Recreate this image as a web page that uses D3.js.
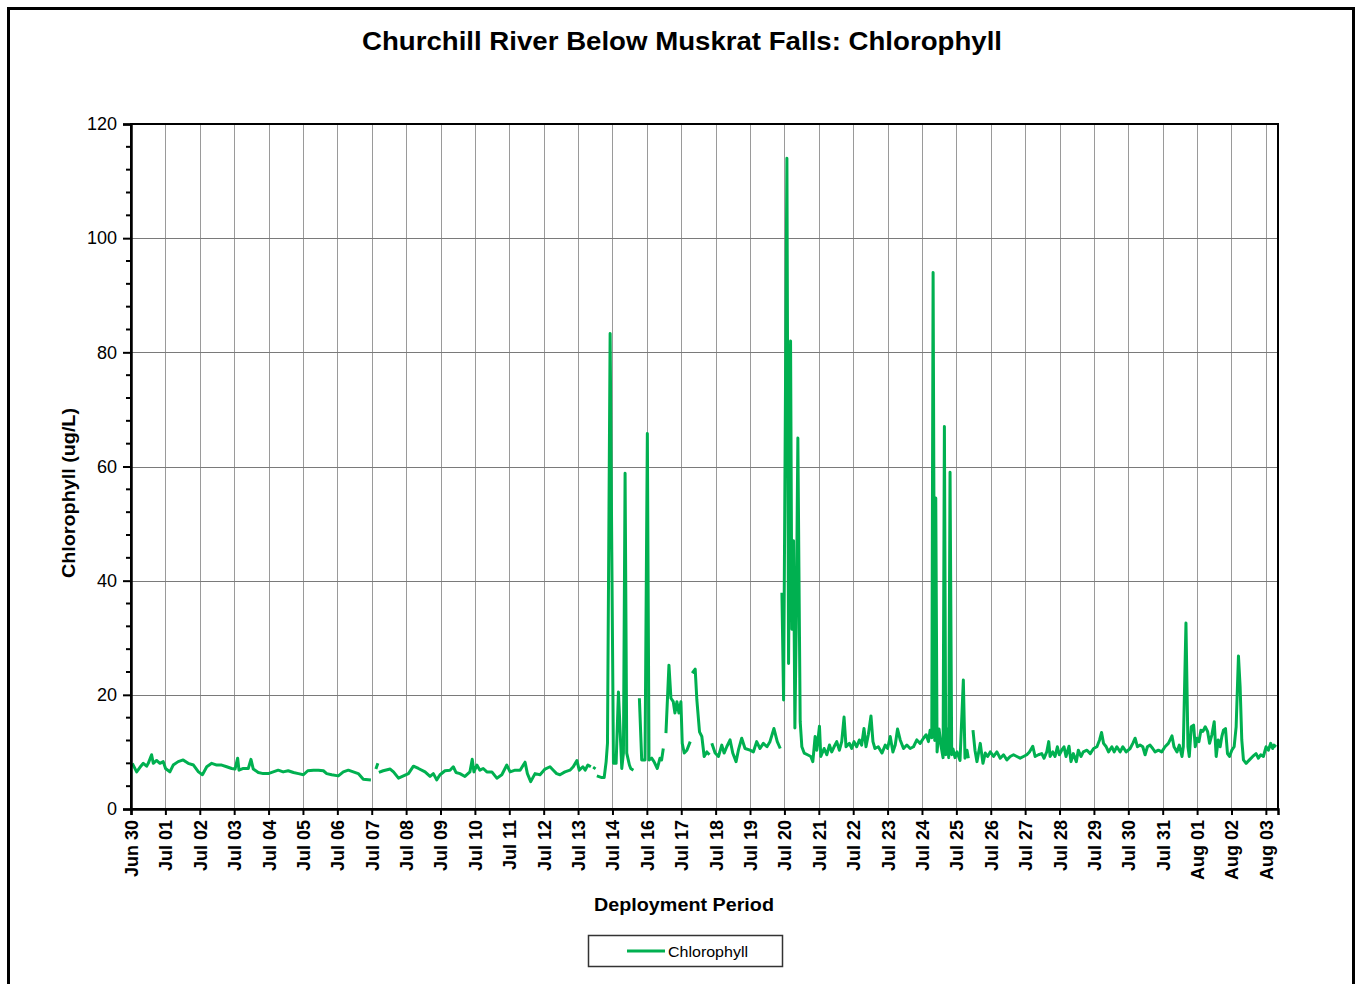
<!DOCTYPE html>
<html>
<head>
<meta charset="utf-8">
<script src="https://cdn.jsdelivr.net/npm/d3@7"></script>
<style>
  html, body { margin: 0; padding: 0; background: #fff; }
  svg { display: block; font-family: "Liberation Sans", Arial, sans-serif; }
</style>
</head>
<body>
<svg id="chart" width="1356" height="984"></svg>
<script>
// Sonde record, time in days since Jun 30 00:00; null marks a break in logging
const times = [
  0.54,0.67,0.77,0.87,0.97,1.02,1.12,1.17,1.27,1.37,1.47,1.54,1.67,1.77,1.92,2.07,2.22,2.38,2.53,2.65,
  2.78,2.93,3.08,3.23,3.38,3.53,3.63,3.71,3.75,3.88,4.03,4.11,4.18,4.33,4.48,4.63,4.78,4.93,5.08,5.23,
  5.39,5.54,5.69,5.82,5.99,6.14,6.29,6.39,6.54,6.74,6.89,7.04,7.19,7.34,7.49,7.72,7.80,7.87,7.93,7.945,
  7.96,8.09,8.30,8.40,8.55,8.70,8.85,9.00,9.15,9.35,9.50,9.60,9.70,9.80,9.95,10.10,10.20,10.28,10.40,10.55,
  10.70,10.77,10.82,10.91,11.00,11.10,11.21,11.36,11.51,11.66,11.81,11.91,12.06,12.21,12.36,12.43,12.53,12.66,12.81,12.96,
  13.11,13.21,13.31,13.41,13.56,13.71,13.81,13.92,13.99,14.10,14.17,14.25,14.34,14.38,14.42,14.47,14.495,14.52,14.67,14.74,
  14.80,14.84,14.92,14.97,15.02,15.10,15.17,15.27,15.32,15.37,15.42,15.50,15.54,15.62,15.70,15.80,15.87,15.97,16.04,16.09,
  16.17,16.24,16.34,16.42,16.47,16.52,16.56,16.60,16.69,16.75,16.82,16.87,16.93,16.99,17.05,17.09,17.15,17.23,17.33,17.36,
  17.39,17.48,17.53,17.61,17.68,17.75,17.83,17.91,17.945,17.98,18.08,18.18,18.28,18.35,18.43,18.53,18.61,18.71,18.78,18.88,
  18.98,19.13,19.23,19.33,19.43,19.53,19.64,19.73,19.85,19.95,20.04,20.065,20.09,20.14,20.24,20.29,20.35,20.39,20.44,20.48,
  20.52,20.57,20.61,20.64,20.69,20.76,20.86,20.96,21.02,21.09,21.14,21.22,21.26,21.36,21.44,21.52,21.59,21.66,21.74,21.82,
  21.89,21.96,22.02,22.12,22.19,22.26,22.34,22.42,22.49,22.56,22.62,22.69,22.77,22.83,22.89,22.99,23.10,23.20,23.27,23.35,
  23.43,23.50,23.57,23.65,23.75,23.85,23.95,24.05,24.15,24.25,24.35,24.43,24.50,24.55,24.60,24.64,24.69,24.72,24.76,24.82,
  24.88,24.94,24.98,25.02,25.06,25.11,25.15,25.20,25.24,25.30,25.36,25.45,25.55,25.60,25.66,25.70,25.77,25.84,25.90,25.96,
  26.06,26.14,26.21,26.28,26.36,26.46,26.56,26.66,26.76,26.86,26.96,27.06,27.16,27.26,27.36,27.46,27.54,27.64,27.71,27.81,
  27.91,27.98,28.06,28.12,28.16,28.24,28.31,28.38,28.44,28.51,28.58,28.64,28.73,28.79,28.86,28.95,29.01,29.09,29.16,29.27,
  29.37,29.47,29.57,29.65,29.71,29.77,29.85,29.92,30.02,30.09,30.17,30.27,30.35,30.45,30.57,30.65,30.72,30.79,30.87,30.95,
  31.02,31.09,31.17,31.25,31.32,31.42,31.52,31.62,31.72,31.83,31.89,31.98,32.05,32.13,32.17,32.25,32.31,32.35,32.41,32.48,
  32.53,32.58,32.64,32.70,32.76,32.83,32.90,32.96,33.03,33.10,33.16,33.22,33.28,33.33,33.38,33.44,33.50,33.56,33.63,33.70,
  33.76,33.83,33.88,33.93,33.98,34.06,34.16,34.26,34.36,34.43,34.50,34.58,34.66,34.73,34.80,34.86,34.90,34.96
];

// Chlorophyll (ug/L) at each time above
const chlorophyll = [
  8.0,6.5,7.3,8.0,7.5,8.0,9.5,8.0,8.5,8.0,8.3,7.1,6.5,7.7,8.3,8.6,8.0,7.7,6.5,6.0,
  7.4,8.0,7.7,7.7,7.4,7.1,7.0,8.9,6.8,7.1,7.1,8.7,7.0,6.4,6.2,6.2,6.5,6.8,6.5,6.7,
  6.4,6.2,6.0,6.7,6.8,6.8,6.7,6.2,6.0,5.8,6.5,6.8,6.5,6.2,5.2,5.1,null,7.0,8.0,null,
  6.4,6.7,7.0,6.5,5.4,5.8,6.2,7.5,7.1,6.5,5.7,6.2,5.1,6.0,6.7,6.8,7.4,6.4,6.2,5.7,
  6.5,8.7,6.5,7.7,6.8,7.1,6.5,6.5,5.4,6.0,7.7,6.5,6.8,6.8,8.2,6.2,4.8,6.2,6.0,7.0,
  7.4,6.8,6.2,6.0,6.5,6.8,7.4,8.5,6.8,7.4,6.8,7.7,7.4,null,7.0,7.4,null,5.8,5.5,5.5,
  8.3,11.5,83.3,45,8.0,8.0,20.5,7.1,9.8,58.8,9.8,7.7,7.1,6.8,null,19.4,8.6,8.6,65.8,8.6,
  8.9,8.3,7.1,8.9,8.6,10.6,null,13.3,25.2,19.4,18.8,16.8,18.8,16.8,18.8,11.5,9.8,10.3,11.8,null,
  23.8,24.5,19.1,13.5,12.7,9.2,10.0,9.5,null,11.5,9.8,9.2,11.2,9.8,10.9,12.1,9.8,8.3,10.3,12.4,
  10.6,10.3,10.0,11.8,10.6,11.5,10.9,11.8,14.1,11.8,10.6,null,37.9,19.1,114,25.5,82,31.5,47,14.2,
  31.8,65,36,15.3,10.9,9.8,9.5,9.2,8.3,12.7,10.3,14.5,9.2,10.6,9.5,11.2,10.0,10.9,11.8,10.3,
  11.8,16.1,10.9,11.5,10.6,11.8,10.9,12.1,11.2,14.1,10.9,13.0,16.3,11.8,10.6,10.9,9.8,11.2,10.6,12.7,
  10.0,11.2,14.0,12.1,10.6,11.2,10.6,10.9,12.1,11.5,12.4,13.0,11.8,13.8,12.5,94,12,54.5,10,14,
  11,9,67,9.5,14,9,59,9.5,10.5,9,10,8.5,22.6,8.9,10.3,8.9,null,13.8,10.3,8.3,
  11.5,8.0,9.8,9.2,10.0,9.2,10.0,8.9,9.5,8.6,9.2,9.5,9.2,8.9,9.2,9.5,10.0,11.0,9.2,9.5,
  9.7,8.9,10.0,11.8,9.2,10.0,9.2,10.9,9.5,10.3,10.9,9.2,11.0,8.3,9.7,8.3,10.3,9.2,10.0,10.3,
  9.7,10.6,10.9,12.1,13.4,11.5,10.9,10.0,10.9,10.0,10.9,10.0,10.9,10.0,10.6,11.5,12.4,10.9,11.2,10.9,
  9.5,10.9,11.2,10.6,10.0,10.3,10.0,10.9,11.5,12.8,10.9,10.0,11.2,9.2,10.9,32.6,10.9,9.2,14.4,14.7,
  10.9,12.4,11.8,13.8,13.6,14.4,13.6,11.5,13.0,15.3,9.2,12.1,10.9,12.7,13.8,14.1,9.7,9.2,10.3,10.9,
  14.4,26.8,21.4,12.1,8.6,8.0,8.6,9.2,9.7,8.9,9.5,9.2,10.9,10.3,11.5,10.6,11.2,10.9
];

// Axis tick labels (one per major unit along the deployment period)
const tickLabels = [
  "Jun 30","Jul 01","Jul 02","Jul 03","Jul 04","Jul 05","Jul 06","Jul 07","Jul 08","Jul 09",
  "Jul 10","Jul 11","Jul 12","Jul 13","Jul 14","Jul 16","Jul 17","Jul 18","Jul 19","Jul 20",
  "Jul 21","Jul 22","Jul 23","Jul 24","Jul 25","Jul 26","Jul 27","Jul 28","Jul 29","Jul 30",
  "Jul 31","Aug 01","Aug 02","Aug 03"
];
const xAxisStart = 0.5;     // days
const xAxisEnd = 35.02;     // days
const xMajorUnit = 1.035;   // days between labelled ticks
const yTicks = [0, 20, 40, 60, 80, 100, 120];
const yMinorUnit = 4;

const series = times.map((t, i) => ({ t: t, v: chlorophyll[i] }));

const svg = d3.select("#chart");
const plot = { left: 131, right: 1278, top: 124, bottom: 809 };
const green = "#00b050";

const x = d3.scaleLinear().domain([xAxisStart, xAxisEnd]).range([plot.left, plot.right]);
const y = d3.scaleLinear().domain([0, 120]).range([plot.bottom, plot.top]);

// outer frame
svg.append("rect")
  .attr("x", 8.5).attr("y", 8.5).attr("width", 1345).attr("height", 1010)
  .attr("fill", "none").attr("stroke", "#000").attr("stroke-width", 3);

// title
svg.append("text")
  .attr("x", 682).attr("y", 50)
  .attr("text-anchor", "middle")
  .attr("font-size", 25).attr("font-weight", "bold")
  .attr("textLength", 640).attr("lengthAdjust", "spacingAndGlyphs")
  .text("Churchill River Below Muskrat Falls: Chlorophyll");

const tickVals = tickLabels.map((d, i) => xAxisStart + i * xMajorUnit);

// vertical grid lines
svg.append("g")
  .selectAll("line")
  .data(tickVals.slice(1))
  .join("line")
  .attr("x1", d => Math.round(x(d)) + 0.5).attr("x2", d => Math.round(x(d)) + 0.5)
  .attr("y1", plot.top).attr("y2", plot.bottom)
  .attr("stroke", "#9a9a9a").attr("stroke-width", 1);

// horizontal grid lines
svg.append("g")
  .selectAll("line")
  .data(yTicks.slice(1, -1))
  .join("line")
  .attr("x1", plot.left).attr("x2", plot.right)
  .attr("y1", d => Math.round(y(d)) + 0.5).attr("y2", d => Math.round(y(d)) + 0.5)
  .attr("stroke", "#7a7a7a").attr("stroke-width", 1);

// data line
const line = d3.line()
  .defined(d => d.v !== null)
  .x(d => x(d.t))
  .y(d => y(d.v));

svg.append("path")
  .datum(series)
  .attr("d", line)
  .attr("fill", "none")
  .attr("stroke", green)
  .attr("stroke-width", 3)
  .attr("stroke-linejoin", "round");

// plot border
svg.append("rect")
  .attr("x", plot.left).attr("y", plot.top)
  .attr("width", plot.right - plot.left).attr("height", plot.bottom - plot.top)
  .attr("fill", "none").attr("stroke", "#000").attr("stroke-width", 2);

// y axis
const yAxis = d3.axisLeft(y).tickValues(yTicks).tickSize(8).tickPadding(6).tickFormat(d3.format("d"));
const gy = svg.append("g").attr("transform", `translate(${plot.left},0)`).call(yAxis);
gy.select(".domain").attr("stroke", "#000").attr("stroke-width", 2.5);
gy.selectAll(".tick line").attr("stroke", "#000").attr("stroke-width", 2);
gy.selectAll(".tick text")
  .attr("font-size", 18).attr("font-family", "Liberation Sans, Arial, sans-serif").attr("fill", "#000");

// y minor ticks
const minorVals = d3.range(0, 120 + 0.001, yMinorUnit).filter(v => v % 20 !== 0);
svg.append("g")
  .selectAll("line")
  .data(minorVals)
  .join("line")
  .attr("x1", plot.left - 5).attr("x2", plot.left)
  .attr("y1", d => y(d)).attr("y2", d => y(d))
  .attr("stroke", "#000").attr("stroke-width", 2);

// x axis
const xAxis = d3.axisBottom(x).tickValues(tickVals).tickSize(6).tickFormat((d, i) => tickLabels[i]);
const gx = svg.append("g").attr("transform", `translate(0,${plot.bottom})`).call(xAxis);
gx.select(".domain").attr("stroke", "#000").attr("stroke-width", 2.5);
gx.selectAll(".tick line").attr("stroke", "#000").attr("stroke-width", 2);
gx.selectAll(".tick text")
  .attr("font-size", 18).attr("font-weight", "bold")
  .attr("font-family", "Liberation Sans, Arial, sans-serif").attr("fill", "#000")
  .attr("text-anchor", "end")
  .attr("transform", "rotate(-90)")
  .attr("x", -11).attr("y", 0).attr("dy", "0.36em");

// axis titles
svg.append("text")
  .attr("transform", "translate(75,493) rotate(-90)")
  .attr("text-anchor", "middle")
  .attr("font-size", 19).attr("font-weight", "bold")
  .attr("textLength", 170).attr("lengthAdjust", "spacingAndGlyphs")
  .text("Chlorophyll (ug/L)");

svg.append("text")
  .attr("x", 684).attr("y", 911)
  .attr("text-anchor", "middle")
  .attr("font-size", 19).attr("font-weight", "bold")
  .attr("textLength", 180).attr("lengthAdjust", "spacingAndGlyphs")
  .text("Deployment Period");

// legend
const legend = svg.append("g");
legend.append("rect")
  .attr("x", 588.5).attr("y", 935.5).attr("width", 194).attr("height", 31)
  .attr("fill", "#fff").attr("stroke", "#333").attr("stroke-width", 1.5);
legend.append("line")
  .attr("x1", 627).attr("x2", 665).attr("y1", 951).attr("y2", 951)
  .attr("stroke", green).attr("stroke-width", 3);
legend.append("text")
  .attr("x", 668).attr("y", 956.5)
  .attr("font-size", 15)
  .attr("textLength", 80).attr("lengthAdjust", "spacingAndGlyphs")
  .text("Chlorophyll");
</script>
</body>
</html>
